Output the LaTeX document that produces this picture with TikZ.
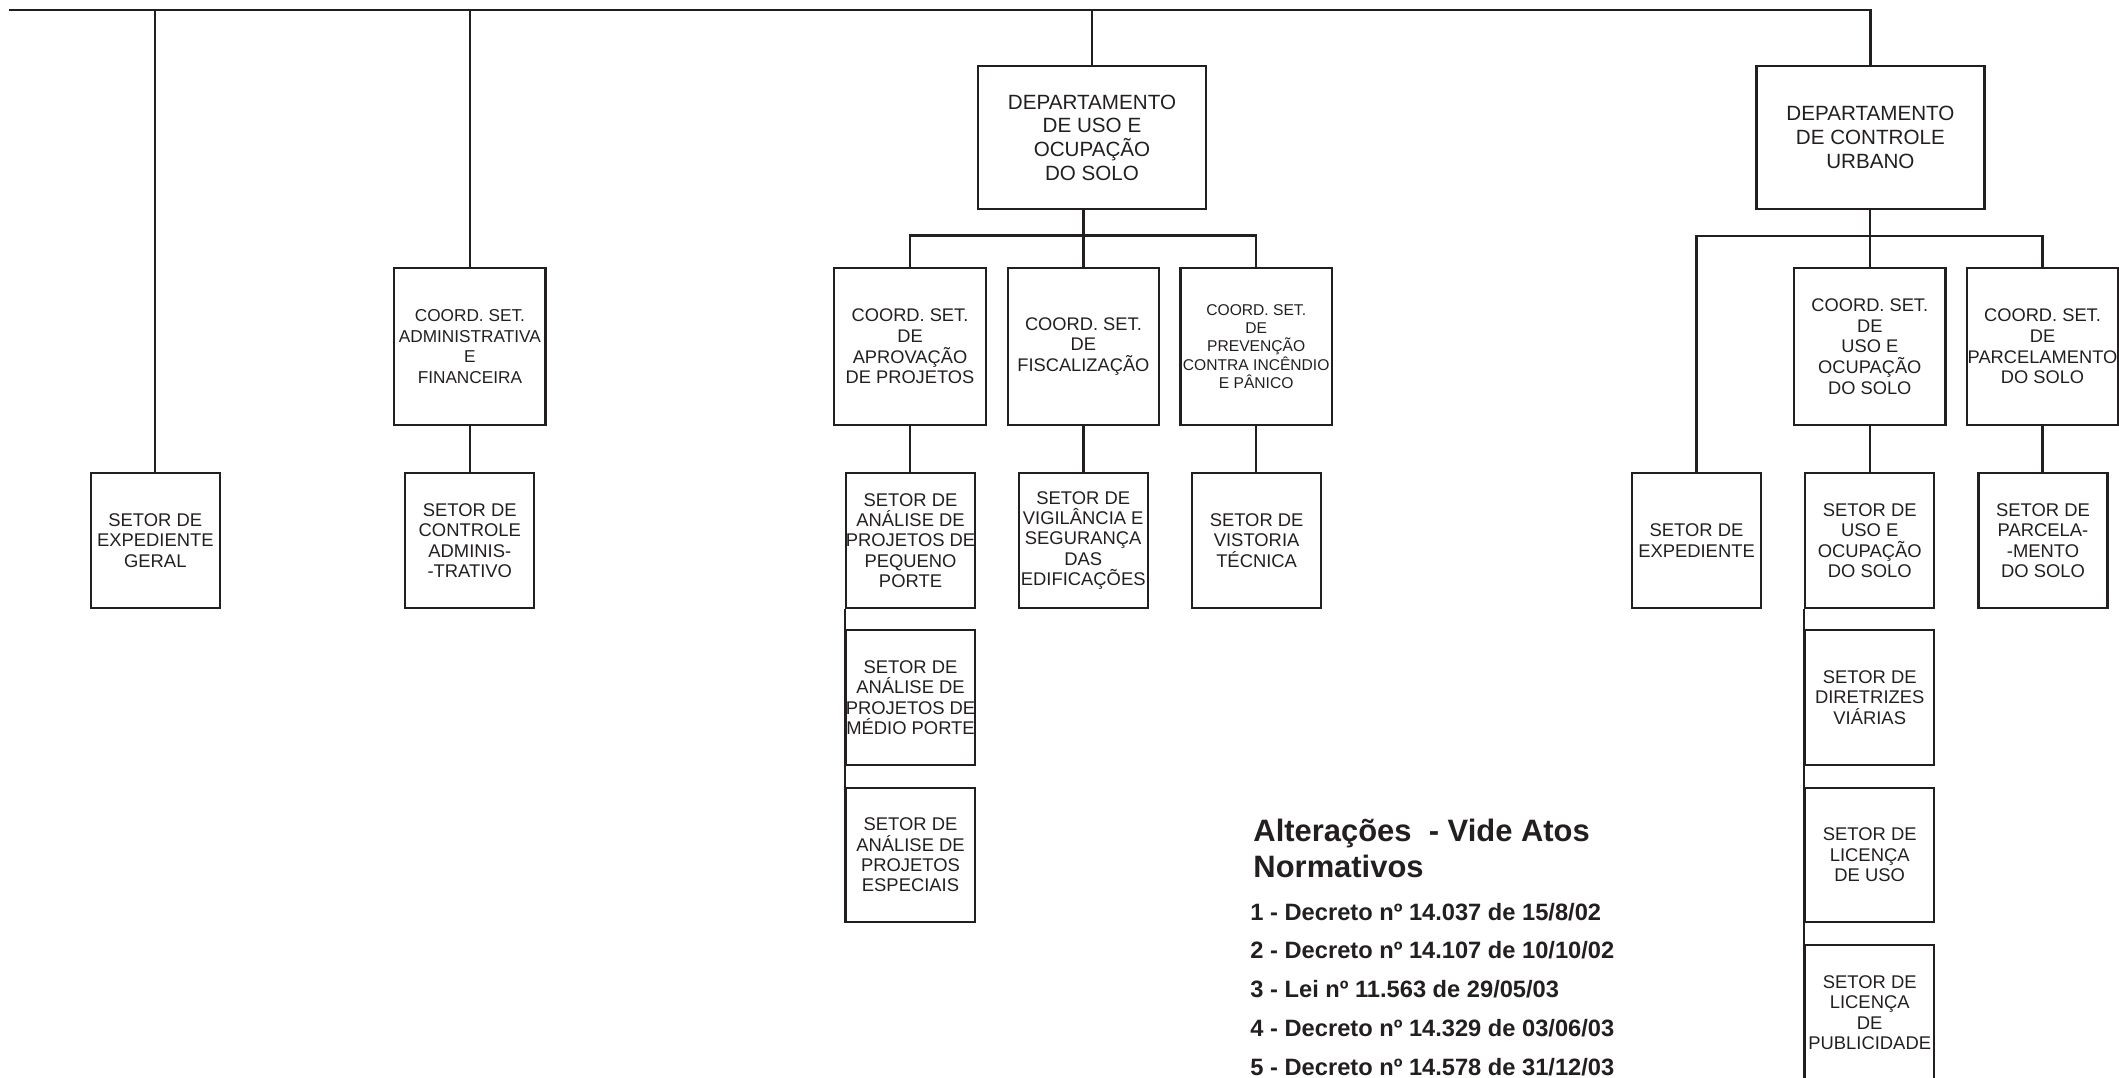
\documentclass[tikz,border=0pt]{standalone}
\usepackage{fontspec}
\setmainfont{Liberation Sans}
\usepackage{tikz}
\usetikzlibrary{calc}
\usepackage{xcolor}
\definecolor{orgInk}{HTML}{231F20}
\tikzset{
  orgbox/.style   = {draw=orgInk, line width=0.95pt, text=orgInk, align=center,
                     inner xsep=-1.5mm, inner ysep=0pt},
  deptbox/.style  = {orgbox, minimum width=34.2mm, minimum height=21.5mm,
                     font=\fontsize{8.8}{10.1}\selectfont},
  coordbox/.style = {orgbox, minimum width=22.7mm, minimum height=23.55mm,
                     font=\fontsize{7.8}{8.8}\selectfont},
  setorbox/.style = {orgbox, minimum width=19.35mm, minimum height=20.2mm,
                     font=\fontsize{7.85}{8.7}\selectfont},
  link/.style     = {draw=orgInk, line width=0.95pt},
  legtitle/.style = {font=\bfseries\fontsize{13.2}{15}\selectfont, text=orgInk,
                     inner sep=0pt, anchor=base west},
  legitem/.style  = {font=\bfseries\fontsize{10.1}{12}\selectfont, text=orgInk,
                     inner sep=0pt, anchor=base west},
}

\begin{document}
\begin{tikzpicture}[x=0.15mm, y=-0.15mm, line join=miter]
\useasboundingbox (0,0) rectangle (2119,1077);

% ===================== departments =====================
\node[deptbox] (duos) at (1092,137.4) {DEPARTAMENTO\\DE USO E\\OCUPAÇÃO\\DO SOLO};
\node[deptbox] (dcu)  at (1870.4,137.4) {DEPARTAMENTO\\DE CONTROLE\\URBANO};

% ===================== coordinations ===================
\node[coordbox, font=\fontsize{7.35}{8.8}\selectfont] (cadm) at (469.9,346.5)
  {COORD. SET.\\ADMINISTRATIVA\\E\\FINANCEIRA};
\node[coordbox] (caprov) at (910,346.5)  {COORD. SET.\\DE\\APROVAÇÃO\\DE PROJETOS};
\node[coordbox] (cfisc)  at (1083.4,346.5) {COORD. SET.\\DE\\FISCALIZAÇÃO};
\node[coordbox, font=\fontsize{6.66}{7.85}\selectfont] (cprev) at (1256.2,346.5)
  {COORD. SET.\\DE\\PREVENÇÃO\\CONTRA INCÊNDIO\\E PÂNICO};
\node[coordbox] (cuso)   at (1869.8,346.5) {COORD. SET.\\DE\\USO E\\OCUPAÇÃO\\DO SOLO};
\node[coordbox] (cparc)  at (2042.5,346.5) {COORD. SET.\\DE\\PARCELAMENTO\\DO SOLO};

% ===================== sectors =========================
\node[setorbox] (sgeral) at (155.3,540.5)  {SETOR DE\\EXPEDIENTE\\GERAL};
\node[setorbox] (sctrl)  at (469.8,540.5)  {SETOR DE\\CONTROLE\\ADMINIS-\\-TRATIVO};
\node[setorbox] (speq)   at (910.5,540.5)  {SETOR DE\\ANÁLISE DE\\PROJETOS DE\\PEQUENO\\PORTE};
\node[setorbox] (smed)   at (910.5,697.5)  {SETOR DE\\ANÁLISE DE\\PROJETOS DE\\MÉDIO PORTE};
\node[setorbox] (sesp)   at (910.5,855)    {SETOR DE\\ANÁLISE DE\\PROJETOS\\ESPECIAIS};
\node[setorbox] (svig)   at (1083.2,540.5) {SETOR DE\\VIGILÂNCIA E\\SEGURANÇA\\DAS\\EDIFICAÇÕES};
\node[setorbox] (svist)  at (1256.6,540.5) {SETOR DE\\VISTORIA\\TÉCNICA};
\node[setorbox] (sexp)   at (1696.5,540.5) {SETOR DE\\EXPEDIENTE};
\node[setorbox] (suso)   at (1869.7,540.5) {SETOR DE\\USO E\\OCUPAÇÃO\\DO SOLO};
\node[setorbox] (sdir)   at (1869.7,697.5) {SETOR DE\\DIRETRIZES\\VIÁRIAS};
\node[setorbox] (slic)   at (1869.7,855)   {SETOR DE\\LICENÇA\\DE USO};
\node[setorbox] (spub)   at (1869.7,1012.5) {SETOR DE\\LICENÇA\\DE\\PUBLICIDADE};
\node[setorbox] (sparc)  at (2043,540.5)   {SETOR DE\\PARCELA-\\-MENTO\\DO SOLO};

% ===================== connectors ======================
\coordinate (topL) at (9,10.3);
\coordinate (duosbar) at (0,235.5);
\coordinate (dcubar) at (0,235.8);

\draw[link] (topL) -- (topL -| dcu.north) -- (dcu.north);
\foreach \b in {sgeral,cadm,duos}
  \draw[link] (topL -| \b.north) -- (\b.north);
\draw[link] (cadm.south) -- (cadm.south |- sctrl.north);

% uso e ocupacao
\draw[link] (duos.south -| cfisc.north) -- (cfisc.north);
\draw[link] (caprov.north) -- (caprov.north |- duosbar) -- (cprev.north |- duosbar)
  -- (cprev.north);
\foreach \c/\s in {caprov/speq, cfisc/svig, cprev/svist}
  \draw[link] (\c.south) -- (\c.south |- \s.north);
\draw[link] (speq.south west) -- (sesp.south west);

% controle urbano
\draw[link] (dcu.south -| cuso.north) -- (cuso.north);
\draw[link] (sexp.north) -- (sexp.north |- dcubar) -- (cparc.north |- dcubar)
  -- (cparc.north);
\foreach \c/\s in {cuso/suso, cparc/sparc}
  \draw[link] (\c.south) -- (\c.south |- \s.north);
\draw[link] (suso.south west) -- (spub.south west);

% ===================== legend ==========================
\node[legtitle] (legA) at (1253,841.7) {Alterações\ \ - Vide Atos};
\node[legtitle] (legB) at (1253,877.3) {Normativos};
\foreach \txt [count=\i] in {{1 - Decreto nº 14.037 de 15/8/02},
    {2 - Decreto nº 14.107 de 10/10/02}, {3 - Lei nº 11.563 de 29/05/03},
    {4 - Decreto nº 14.329 de 03/06/03}, {5 - Decreto nº 14.578 de 31/12/03}}
  \node[legitem] (act\i) at (1250,{881.25+38.75*\i}) {\txt};

\end{tikzpicture}
\end{document}
